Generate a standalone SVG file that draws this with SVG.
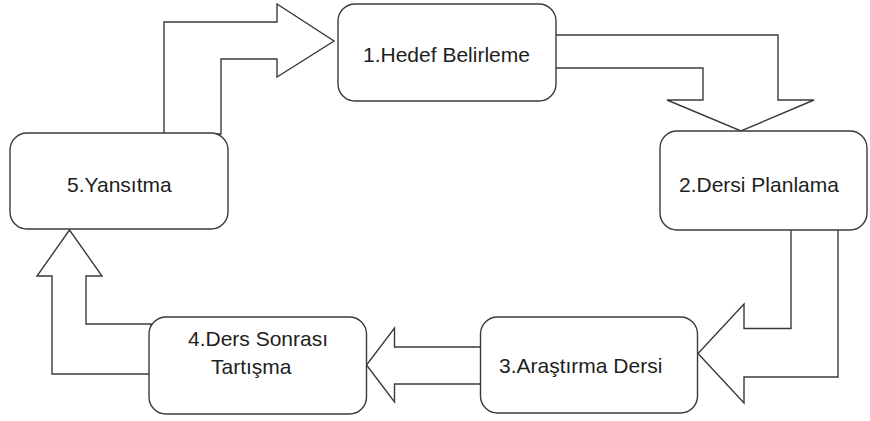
<svg xmlns="http://www.w3.org/2000/svg" width="870" height="421" viewBox="0 0 870 421">
  <style>
    .arrow { fill: #ffffff; stroke: #3a3a3a; stroke-width: 1.4; stroke-linejoin: miter; }
    .box { fill: #ffffff; stroke: #3a3a3a; stroke-width: 1.4; }
    .label { font-family: "Liberation Sans", Arial, sans-serif; font-size: 21px; fill: #1e1e1e; }
  </style>
  <rect width="870" height="421" fill="#ffffff"/>

  <!-- block arrows linking the steps in a cycle -->
  <g id="connectors">
    <!-- 5 -> 1 -->
    <polygon class="arrow" points="164,134 164,22 277,22 277,4 334,41 277,77 277,59 221,59 221,134"/>
    <!-- 1 -> 2 -->
    <polygon class="arrow" points="554,35 778,35 778,100 814,100 741,131 667,100 703,100 703,68 554,68"/>
    <!-- 2 -> 3 -->
    <polygon class="arrow" points="838,228 838,377 744,377 744,403 698,353.5 744,304 744,328.5 791,328.5 791,228"/>
    <!-- 3 -> 4 -->
    <polygon class="arrow" points="482,347 394.5,347 394.5,328 366.5,365 394.5,402 394.5,384 482,384"/>
    <!-- 4 -> 5 -->
    <polygon class="arrow" points="151,374 52,374 52,276 37,276 69.5,230 102,276 86,276 86,324 151,324"/>
  </g>

  <g id="node1">
    <rect class="box" x="338" y="4" width="218" height="97" rx="17" ry="17"/>
    <text class="label" x="363" y="62">1.Hedef Belirleme</text>
  </g>

  <g id="node2">
    <rect class="box" x="660" y="131" width="207" height="99" rx="17" ry="17"/>
    <text class="label" x="679" y="192">2.Dersi Planlama</text>
  </g>

  <g id="node3">
    <rect class="box" x="480.5" y="317" width="217" height="96" rx="17" ry="17"/>
    <text class="label" x="499" y="373">3.Araştırma Dersi</text>
  </g>

  <g id="node4">
    <rect class="box" x="149" y="317" width="217.5" height="97" rx="17" ry="17"/>
    <text class="label" x="188" y="346">4.Ders Sonrası</text>
    <text class="label" x="211" y="374">Tartışma</text>
  </g>

  <g id="node5">
    <rect class="box" x="10" y="133" width="218" height="96" rx="17" ry="17"/>
    <text class="label" x="67" y="192">5.Yansıtma</text>
  </g>
</svg>
